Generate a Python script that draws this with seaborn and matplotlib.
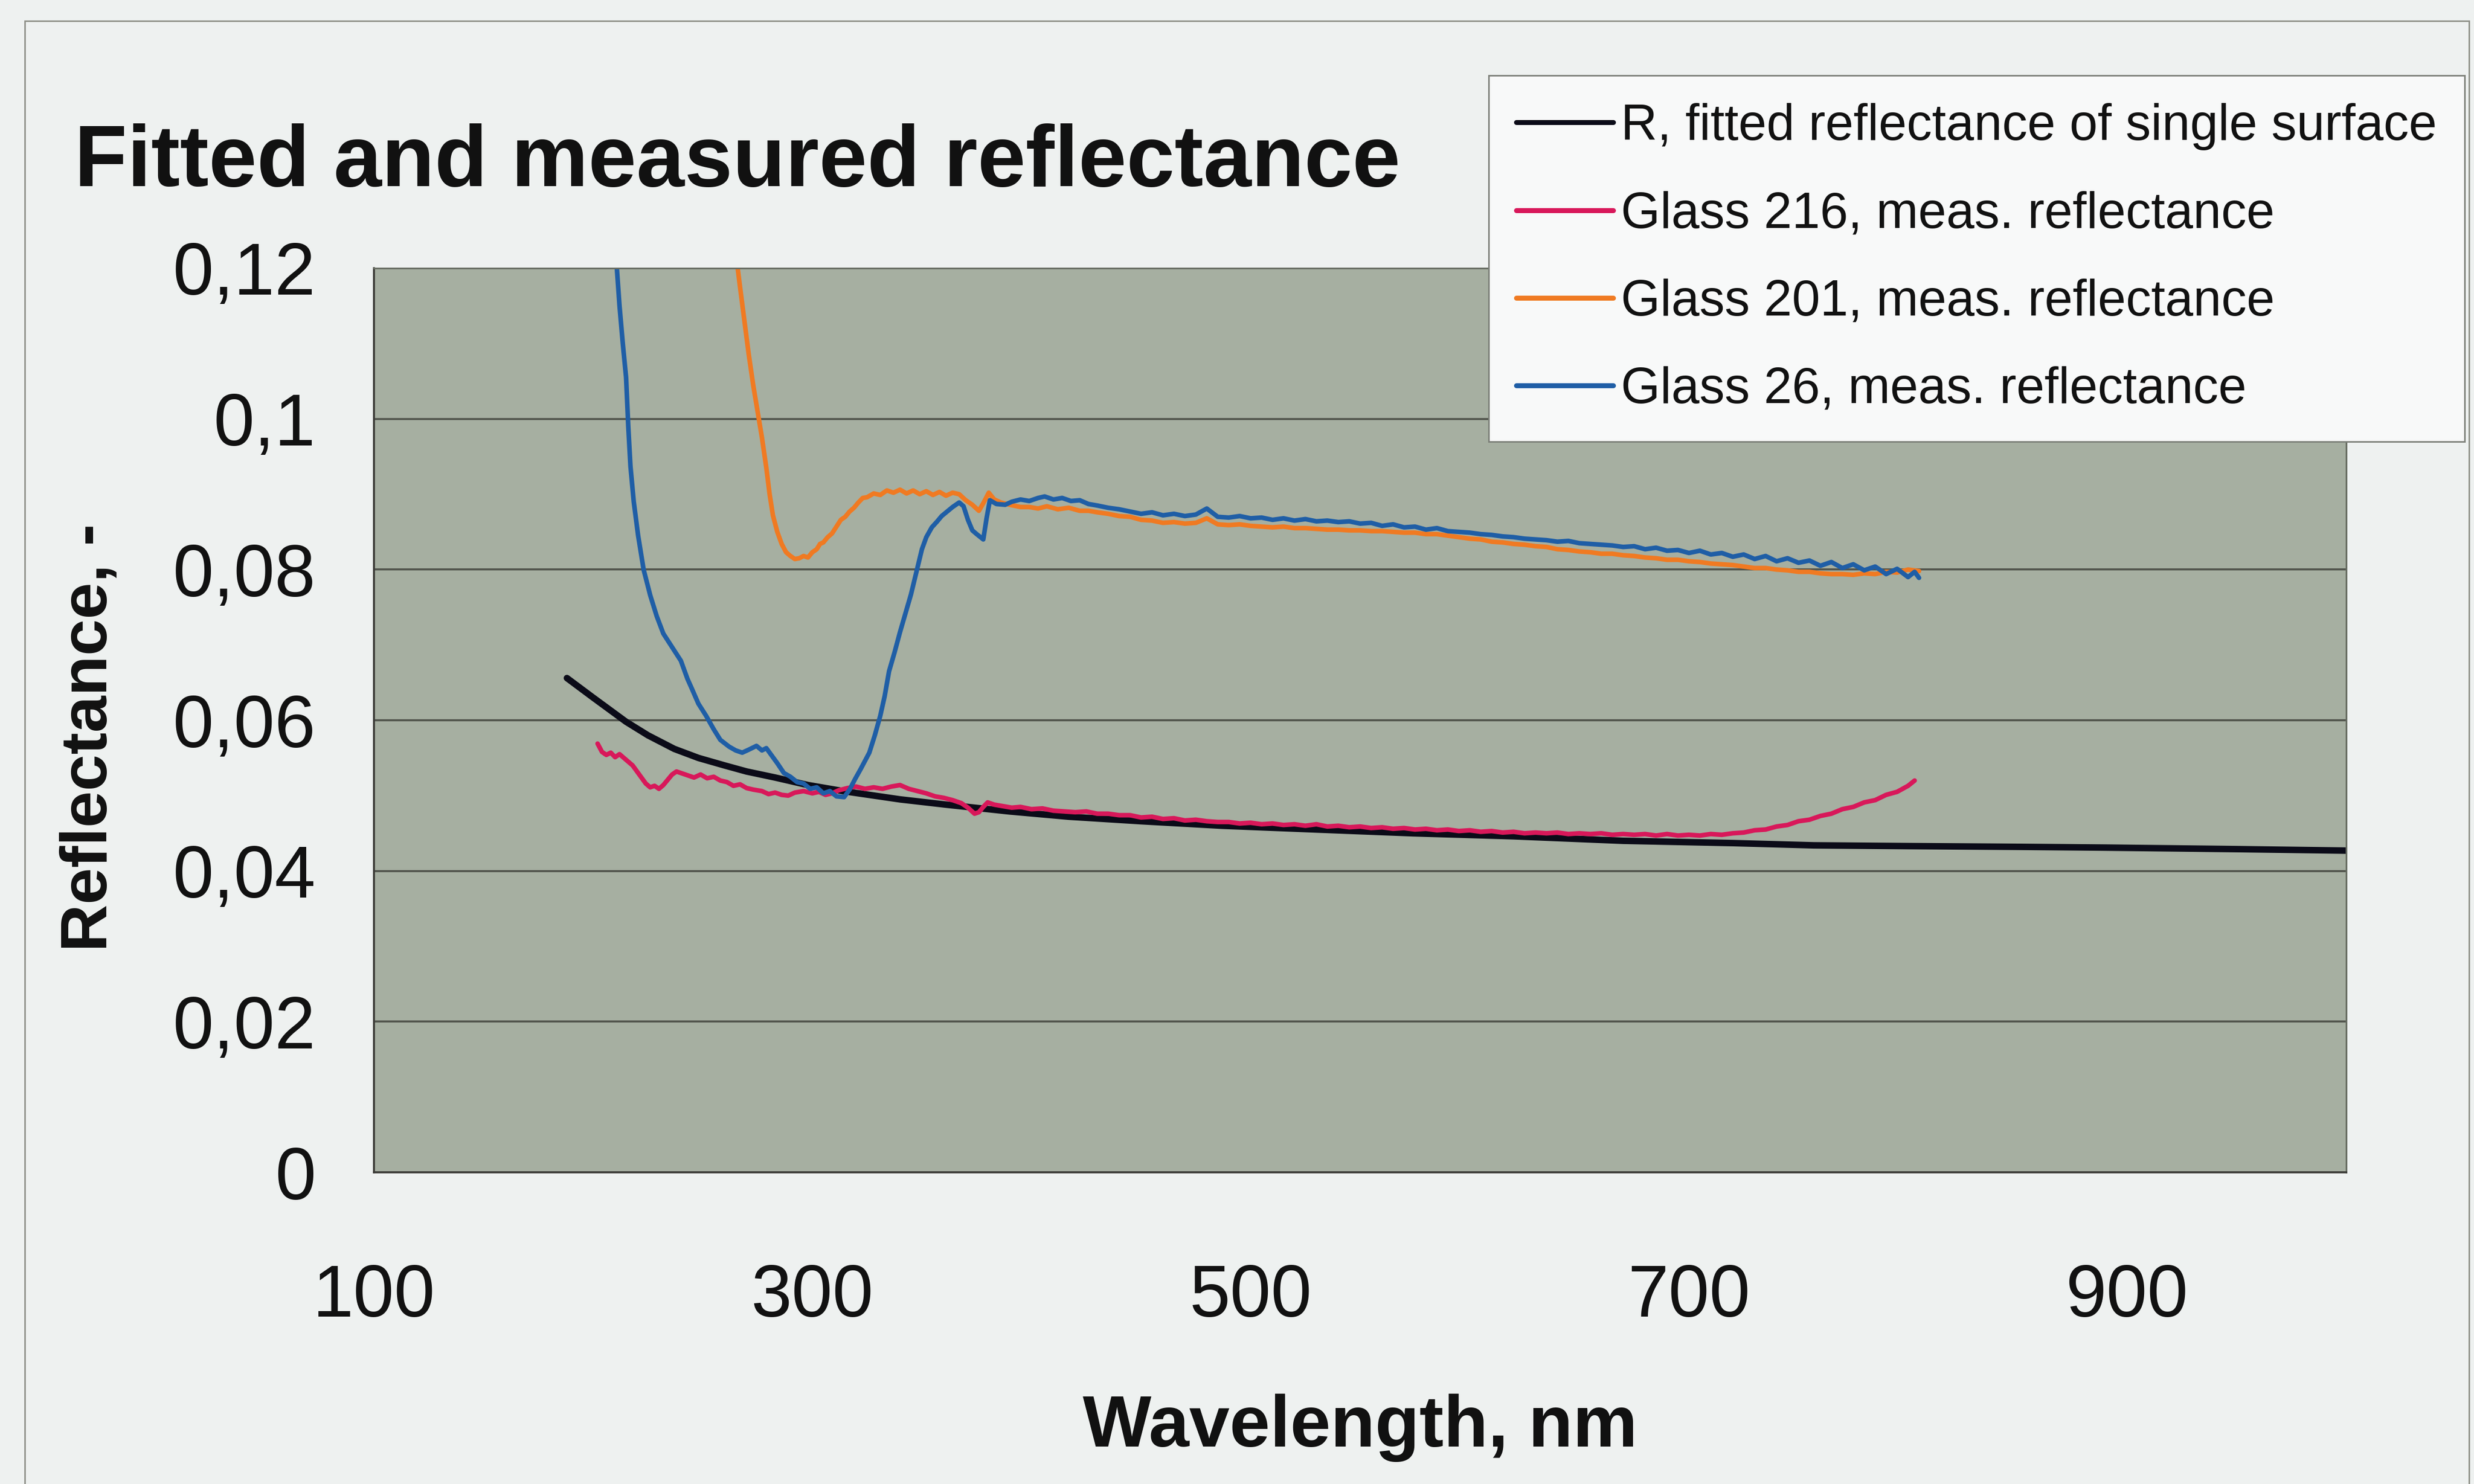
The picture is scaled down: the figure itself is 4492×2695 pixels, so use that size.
import matplotlib
matplotlib.use("Agg")
import matplotlib.pyplot as plt
import pandas as pd
import seaborn as sns
from matplotlib.ticker import FixedLocator, FixedFormatter
from matplotlib.patches import Rectangle

# ---------------- data ----------------
fitted_wl = [188, 200, 215, 225, 237, 248, 260, 270, 283, 298, 314, 340, 361, 390, 417,
             450, 487, 530, 574, 620, 670, 720, 757, 800, 850, 890, 950, 1000]
fitted_r = [0.0656, 0.0630, 0.0598, 0.0580, 0.0562, 0.0550, 0.0540, 0.0532, 0.0524, 0.0514,
            0.0506, 0.0495, 0.0488, 0.0479, 0.0472, 0.0466, 0.0460, 0.0455, 0.0450, 0.0446,
            0.0440, 0.0437, 0.0434, 0.0433, 0.0432, 0.0431, 0.0429, 0.0427]

glass216_wl = [202, 204, 206, 208, 210, 212, 214, 216, 218, 220, 222, 224, 226, 228, 230, 232,
               234, 236, 238, 240, 243, 246, 249, 252, 255, 258, 261, 264, 267, 270, 273, 277,
               280, 283, 286, 289, 292, 296, 300, 303, 306, 309, 312, 316, 320, 324, 328, 332,
               336, 340, 344, 348, 352, 356, 360, 364, 368, 371, 374, 376, 378, 380, 383, 387,
               391, 395, 400, 405, 410, 415, 420, 425, 430, 435, 440, 445, 450, 455, 460, 465,
               470, 475, 480, 485, 490, 495, 500, 505, 510, 515, 520, 525, 530, 535, 540, 545,
               550, 555, 560, 565, 570, 575, 580, 585, 590, 595, 600, 605, 610, 615, 620, 625,
               630, 635, 640, 645, 650, 655, 660, 665, 670, 675, 680, 685, 690, 695, 700, 705,
               710, 715, 720, 725, 730, 735, 740, 745, 750, 755, 760, 765, 770, 775, 780, 785,
               790, 795, 800, 803]
glass216_r = [0.0569, 0.0558, 0.0554, 0.0557, 0.0551, 0.0555, 0.0550, 0.0545, 0.0540, 0.0532,
              0.0524, 0.0516, 0.0511, 0.0513, 0.0509, 0.0514, 0.0521, 0.0528, 0.0532, 0.0530,
              0.0527, 0.0524, 0.0528, 0.0523, 0.0525, 0.0520, 0.0518, 0.0513, 0.0515, 0.0510,
              0.0508, 0.0506, 0.0502, 0.0504, 0.0501, 0.0500, 0.0504, 0.0506, 0.0503, 0.0505,
              0.0501, 0.0503, 0.0507, 0.0510, 0.0512, 0.0509, 0.0511, 0.0509, 0.0512, 0.0514,
              0.0509, 0.0506, 0.0503, 0.0499, 0.0497, 0.0494, 0.0490, 0.0484, 0.0476, 0.0478,
              0.0485, 0.0491, 0.0488, 0.0486, 0.0484, 0.0485, 0.0482, 0.0483, 0.0480, 0.0479,
              0.0478, 0.0479, 0.0476, 0.0476, 0.0474, 0.0474, 0.0471, 0.0472, 0.0469, 0.0470,
              0.0467, 0.0468, 0.0466, 0.0465, 0.0465, 0.0463, 0.0464, 0.0462, 0.0463, 0.0461,
              0.0462, 0.0460, 0.0462, 0.0459, 0.0460, 0.0458, 0.0459, 0.0457, 0.0458, 0.0456,
              0.0457, 0.0455, 0.0456, 0.0454, 0.0455, 0.0453, 0.0454, 0.0452, 0.0453, 0.0451,
              0.0452, 0.0450, 0.0451, 0.0450, 0.0451, 0.0449, 0.0450, 0.0449, 0.0450, 0.0448,
              0.0449, 0.0448, 0.0449, 0.0447, 0.0449, 0.0447, 0.0448, 0.0447, 0.0449, 0.0448,
              0.0450, 0.0451, 0.0454, 0.0455, 0.0459, 0.0461, 0.0466, 0.0468, 0.0473, 0.0476,
              0.0482, 0.0485, 0.0491, 0.0494, 0.0501, 0.0505, 0.0513, 0.0520]

glass201_wl = [265.5, 267, 269, 271, 273, 275, 277, 279, 280.5, 282, 284, 286, 288, 290, 292,
               294, 296, 298, 300, 302, 303.5, 305, 307, 309, 311, 313, 315, 317, 319, 321,
               323, 325, 328, 331, 334, 337, 340, 343, 346, 349, 352, 355, 358, 361, 364, 367,
               370, 373, 376, 378, 380.5, 383, 386, 390, 395, 399, 403, 407, 412, 417, 422, 426,
               430, 435, 440, 445, 450, 455, 460, 465, 470, 475, 480, 485, 490, 495, 500, 505,
               510, 515, 520, 525, 530, 535, 540, 545, 550, 555, 560, 565, 570, 575, 580, 585,
               590, 595, 600, 605, 610, 615, 620, 625, 630, 635, 640, 645, 650, 655, 660, 665,
               670, 675, 680, 685, 690, 695, 700, 705, 710, 715, 720, 725, 730, 735, 740, 745,
               750, 755, 760, 765, 770, 775, 780, 785, 790, 795, 800, 805]
glass201_r = [0.1210, 0.1175, 0.1130, 0.1085, 0.1045, 0.1010, 0.0975, 0.0935, 0.0900, 0.0872,
              0.0850, 0.0834, 0.0823, 0.0818, 0.0814, 0.0815, 0.0818, 0.0816, 0.0823, 0.0827,
              0.0834, 0.0836, 0.0843, 0.0848, 0.0857, 0.0866, 0.0870, 0.0877, 0.0882, 0.0889,
              0.0895, 0.0896, 0.0901, 0.0899, 0.0905, 0.0902, 0.0906, 0.0901, 0.0905, 0.0900,
              0.0904, 0.0899, 0.0903, 0.0898, 0.0902, 0.0900, 0.0892, 0.0886, 0.0878, 0.0888,
              0.0902, 0.0893, 0.0889, 0.0886, 0.0883, 0.0883, 0.0881, 0.0884, 0.0880, 0.0882,
              0.0878, 0.0878, 0.0876, 0.0874, 0.0871, 0.0870, 0.0866, 0.0865, 0.0862, 0.0863,
              0.0861, 0.0862, 0.0868, 0.0860, 0.0859, 0.0860, 0.0858, 0.0857, 0.0856, 0.0857,
              0.0855, 0.0855, 0.0854, 0.0853, 0.0853, 0.0852, 0.0852, 0.0851, 0.0851, 0.0850,
              0.0849, 0.0849, 0.0847, 0.0847, 0.0845, 0.0843, 0.0841, 0.0840, 0.0837, 0.0836,
              0.0834, 0.0833, 0.0831, 0.0830, 0.0827, 0.0826, 0.0824, 0.0823, 0.0821, 0.0821,
              0.0819, 0.0818, 0.0816, 0.0815, 0.0813, 0.0813, 0.0811, 0.0810, 0.0808, 0.0807,
              0.0806, 0.0804, 0.0802, 0.0802, 0.0800, 0.0799, 0.0797, 0.0797, 0.0795, 0.0794,
              0.0794, 0.0793, 0.0795, 0.0794, 0.0797, 0.0796, 0.0800, 0.0798]

glass26_wl = [210.5, 212, 213.5, 215, 216, 217, 218.5, 220.5, 223, 226, 229, 232, 236, 240,
              243, 245, 248, 251.5, 255, 258, 262, 265, 268, 271, 274.5, 277, 279, 281, 284,
              287, 290, 293, 296, 299, 302, 305, 308, 311, 314.5, 317, 319.5, 322, 324, 326,
              328.5, 331, 333, 335, 337.5, 340, 342.5, 345, 347.5, 350, 352, 354.5, 357, 359,
              361.5, 364, 367, 369, 371, 373, 375, 378, 379.5, 381, 384, 388, 391, 395, 399,
              403, 406, 410, 414, 418, 422, 426, 430, 435, 440, 445, 450, 455, 460, 465, 470,
              475, 480, 485, 490, 495, 500, 505, 510, 515, 520, 525, 530, 535, 540, 545, 550,
              555, 560, 565, 570, 575, 580, 585, 590, 595, 600, 605, 610, 615, 620, 625, 630,
              635, 640, 645, 650, 655, 660, 665, 670, 675, 680, 685, 690, 695, 700, 705, 710,
              715, 720, 725, 730, 735, 740, 745, 750, 755, 760, 765, 770, 775, 780, 785, 790,
              795, 800, 803, 805]
glass26_r = [0.1212, 0.1150, 0.1100, 0.1055, 0.0990, 0.0937, 0.0890, 0.0845, 0.0800, 0.0766,
             0.0738, 0.0715, 0.0697, 0.0679, 0.0655, 0.0642, 0.0622, 0.0606, 0.0588, 0.0574,
             0.0565, 0.0560, 0.0557, 0.0561, 0.0566, 0.0560, 0.0563, 0.0555, 0.0543, 0.0530,
             0.0525, 0.0518, 0.0516, 0.0509, 0.0511, 0.0503, 0.0506, 0.0499, 0.0498, 0.0508,
             0.0522, 0.0535, 0.0546, 0.0557, 0.0580, 0.0606, 0.0632, 0.0665, 0.0690, 0.0717,
             0.0742, 0.0767, 0.0797, 0.0827, 0.0843, 0.0856, 0.0864, 0.0871, 0.0877, 0.0883,
             0.0889, 0.0884, 0.0866, 0.0852, 0.0847, 0.0840, 0.0868, 0.0892, 0.0887, 0.0886,
             0.0890, 0.0893, 0.0891, 0.0895, 0.0897, 0.0893, 0.0895, 0.0891, 0.0892, 0.0887,
             0.0885, 0.0882, 0.0880, 0.0877, 0.0874, 0.0876, 0.0872, 0.0874, 0.0871, 0.0873,
             0.0881, 0.0870, 0.0869, 0.0871, 0.0868, 0.0869, 0.0866, 0.0868, 0.0865, 0.0867,
             0.0864, 0.0865, 0.0863, 0.0864, 0.0861, 0.0862, 0.0858, 0.0860, 0.0856, 0.0857,
             0.0853, 0.0855, 0.0851, 0.0850, 0.0849, 0.0847, 0.0846, 0.0844, 0.0843, 0.0841,
             0.0840, 0.0839, 0.0837, 0.0838, 0.0835, 0.0834, 0.0833, 0.0832, 0.0830, 0.0831,
             0.0827, 0.0829, 0.0825, 0.0826, 0.0822, 0.0825, 0.0820, 0.0822, 0.0817, 0.0820,
             0.0814, 0.0818, 0.0811, 0.0815, 0.0809, 0.0812, 0.0805, 0.0810, 0.0802, 0.0807,
             0.0799, 0.0804, 0.0794, 0.0801, 0.0790, 0.0797, 0.0789]

series_labels = ["R, fitted reflectance of single surface",
                 "Glass 216, meas. reflectance",
                 "Glass 201, meas. reflectance",
                 "Glass 26, meas. reflectance"]
series_colors = ["#0b0b18", "#d8185a", "#f07a22", "#1f5ea6"]
series_widths = [8.5, 6.0, 6.0, 6.0]

x_ticks = [100, 300, 500, 700, 900]
y_ticks = [0, 0.02, 0.04, 0.06, 0.08, 0.10, 0.12]
y_tick_labels = ["0", "0,02", "0,04", "0,06", "0,08", "0,1", "0,12"]

frames = []
for label, wl, r in [(series_labels[0], fitted_wl, fitted_r),
                     (series_labels[1], glass216_wl, glass216_r),
                     (series_labels[2], glass201_wl, glass201_r),
                     (series_labels[3], glass26_wl, glass26_r)]:
    frames.append(pd.DataFrame({"wavelength": wl, "reflectance": r, "series": label}))
data = pd.concat(frames, ignore_index=True)

# ---------------- style ----------------
sns.set_style("white")
plt.rcParams["font.family"] = ["Liberation Sans", "DejaVu Sans"]

page_bg = "#eef1f0"
plot_bg = "#a6afa1"
grid_col = "#50534b"

fig = plt.figure(figsize=(44.92, 26.95), dpi=100, facecolor=page_bg)
ax = fig.add_axes([0.1512, 0.2100, 0.7972, 0.6093])
ax.set_facecolor(plot_bg)

for label, color, lw in zip(series_labels, series_colors, series_widths):
    sub = data[data["series"] == label]
    sns.lineplot(data=sub, x="wavelength", y="reflectance", ax=ax, color=color,
                 linewidth=lw, label=label, sort=False, estimator=None, errorbar=None)

ax.set_xlim(100, 1000)
ax.set_ylim(0, 0.12)
ax.xaxis.set_major_locator(FixedLocator(x_ticks))
ax.yaxis.set_major_locator(FixedLocator(y_ticks))
ax.yaxis.set_major_formatter(FixedFormatter(y_tick_labels))
ax.set_xlabel("")
ax.set_ylabel("")

ax.yaxis.grid(True, color=grid_col, linewidth=2.6)
ax.xaxis.grid(False)
ax.set_axisbelow(True)
for side in ["left", "bottom"]:
    ax.spines[side].set_color("#3a3a36")
    ax.spines[side].set_linewidth(2.6)
for side in ["top", "right"]:
    ax.spines[side].set_color("#676c62")
    ax.spines[side].set_linewidth(2.2)

ax.tick_params(axis="y", which="major", direction="out", length=33, width=2.0,
               color="#3a3a36", pad=43, labelsize=96, labelcolor="#111111")
ax.tick_params(axis="x", which="major", direction="out", length=25, width=2.0,
               color="#3a3a36", pad=94, labelsize=96, labelcolor="#111111")
ax.get_legend().remove()

# titles and axis captions
fig.text(0.030, 0.8746, "Fitted and measured reflectance", fontsize=113,
         fontweight="bold", ha="left", va="baseline", color="#111111")
fig.text(0.5497, 0.0252, "Wavelength, nm", fontsize=95, fontweight="bold",
         ha="center", va="baseline", color="#111111")
fig.text(0.0363, 0.503, "Reflectance, -", fontsize=86, fontweight="bold",
         rotation=90, ha="center", va="center", color="#111111")

# legend box
handles, labels = ax.get_legend_handles_labels()
leg = fig.legend(handles, labels, loc="upper right",
                 bbox_to_anchor=(0.9962, 0.9492), bbox_transform=fig.transFigure,
                 fontsize=66, frameon=True, fancybox=False, borderpad=0.55,
                 labelspacing=0.8, handlelength=1.92, handletextpad=0.15,
                 borderaxespad=0.0)
leg.get_frame().set_facecolor("#f8f9f9")
leg.get_frame().set_edgecolor("#7c7f78")
leg.get_frame().set_linewidth(2.0)
leg.get_frame().set_alpha(1.0)
for line in leg.get_lines():
    line.set_linewidth(6.5)
for text in leg.get_texts():
    text.set_color("#111111")

# chart border
fig.patches.append(Rectangle((45 / 4492, -0.02), (4483 - 45) / 4492, 1.02 - 38 / 2695,
                             transform=fig.transFigure, fill=False,
                             edgecolor="#8e9088", linewidth=2.0, zorder=0))

fig.savefig("out.png", dpi=100, facecolor=page_bg)
